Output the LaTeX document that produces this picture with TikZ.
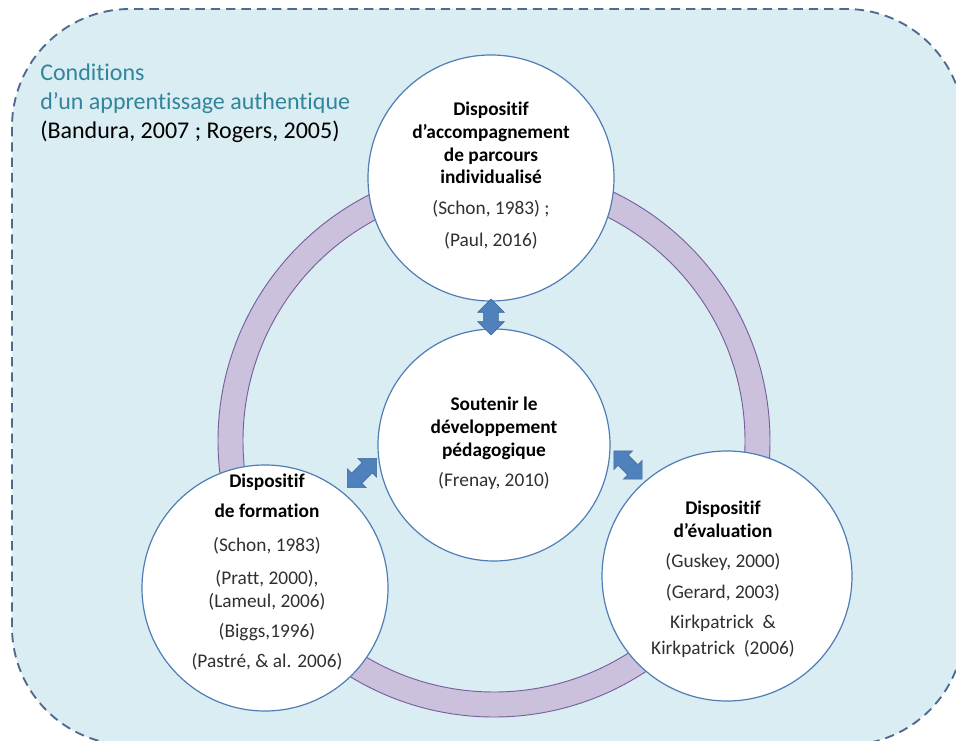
\documentclass[tikz,border=0pt]{standalone}
\usepackage{fontspec}
\setmainfont{Carlito}[Ligatures=NoCommon]
\usetikzlibrary{shapes.arrows}
\definecolor{bgcolor}{HTML}{DAEDF3}
\definecolor{framecolor}{HTML}{4F6A8F}
\definecolor{circcolor}{HTML}{4F7DB5}
\definecolor{ringcolor}{HTML}{CCC1DC}
\definecolor{ringedge}{HTML}{76609E}
\definecolor{titlecolor}{HTML}{31859C}
\definecolor{arrcolor}{HTML}{4F81BD}
\definecolor{citecolor}{HTML}{303030}

\begin{document}
\begin{tikzpicture}[x=0.75pt, y=-0.75pt,
    disc/.style={circle, draw=circcolor, fill=white, line width=0.9pt, inner sep=0pt},
    head/.style={align=center, inner sep=0pt, anchor=north, font=\fontsize{14.5}{17}\selectfont},
    dblarr/.style={double arrow, fill=arrcolor, draw=arrcolor!80!black, line width=0.4pt,
      inner xsep=0pt, inner ysep=5.25pt, double arrow head extend=4.5pt},
  ]
    \useasboundingbox (0,0) rectangle (956,741);
    % background frame
    \draw[fill=bgcolor, draw=framecolor, dash pattern=on 7pt off 4.5pt, line width=1.4pt, rounded corners=88.5pt] (12,9) rectangle (964,745);

    % title
    \node[anchor=north west, align=left, inner sep=0pt, font=\fontsize{18}{21.5}\selectfont] (title) at (40,64)
      {\textcolor{titlecolor}{Conditions}\\ \textcolor{titlecolor}{d’un apprentissage authentique}\\ (Bandura, 2007 ; Rogers, 2005)};

    % ring
    \coordinate (ctr) at (494,441);
    \fill[ringcolor, even odd rule] (ctr) circle (207pt) (ctr) circle (188.25pt);
    \draw[ringedge, line width=0.7pt] (ctr) circle (207pt) (ctr) circle (188.25pt);

    % circles
    \node[disc, minimum size=184.5pt] (top) at (491,178) {};
    \node[disc, minimum size=174pt] (mid) at (494,445) {};
    \node[disc, minimum size=184.5pt] (left) at (265,588) {};
    \node[disc, minimum size=187.5pt] (right) at (727,576) {};

    % texts
    \node[head] (toptxt) at (491,102) {\textbf{Dispositif}\\ \textbf{d’accompagnement}\\ \textbf{de parcours}\\ \textbf{individualisé}\\[6pt]
      \textcolor{citecolor}{(Schon, 1983) ;}\\[7pt] \textcolor{citecolor}{(Paul, 2016)}};
    \node[head] (midtxt) at (494,397) {\textbf{Soutenir le}\\ \textbf{développement}\\ \textbf{pédagogique}\\[6pt]
      \textcolor{citecolor}{(Frenay, 2010)}};
    \node[head] (lefttxt) at (267,474) {\textbf{Dispositif}\\[5.5pt] \textbf{de formation}\\[8pt]
      \textcolor{citecolor}{(Schon, 1983)}\\[8pt] \textcolor{citecolor}{(Pratt, 2000),}\\ \textcolor{citecolor}{(Lameul, 2006)}\\[5.5pt]
      \textcolor{citecolor}{(Biggs,1996)}\\[5.5pt] \textcolor{citecolor}{(Pastré, \& al. 2006)}};
    \node[head] (righttxt) at (723,501) {\textbf{Dispositif}\\ \textbf{d’évaluation}\\[5.5pt]
      \textcolor{citecolor}{(Guskey, 2000)}\\[6pt] \textcolor{citecolor}{(Gerard, 2003)}\\[6pt]
      \textcolor{citecolor}{Kirkpatrick \ \&}\\[2.5pt] \textcolor{citecolor}{Kirkpatrick \ (2006)}};

    % arrows
    \node[dblarr, rotate=90, minimum height=27pt] (arrtop) at (491,317) {};
    \node[dblarr, rotate=45, minimum height=31pt] (arrleft) at (362,473) {};
    \node[dblarr, rotate=-45, minimum height=30pt] (arrright) at (628,465) {};
  \end{tikzpicture}
\end{document}
